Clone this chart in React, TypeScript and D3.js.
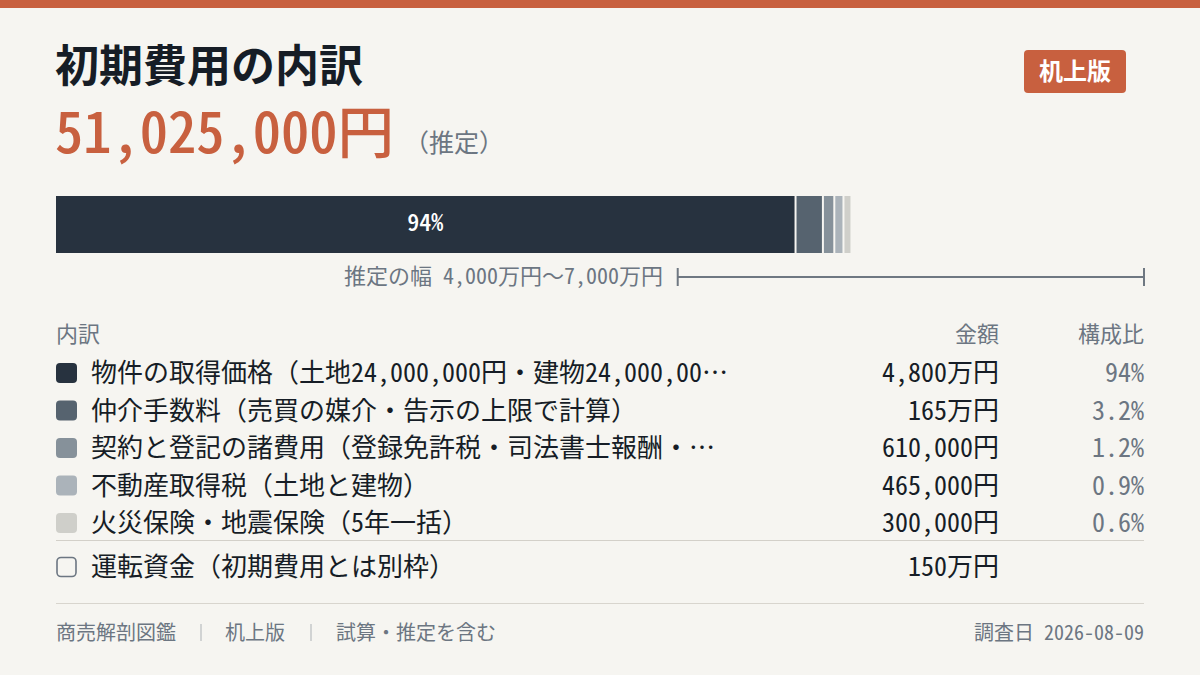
import React, { useLayoutEffect, useRef } from 'react'
import * as d3 from 'd3'

// Breakdown items (yen)
const itemLabels = [
  '物件の取得価格（土地24,000,000円・建物24,000,000円）',
  '仲介手数料（売買の媒介・告示の上限で計算）',
  '契約と登記の諸費用（登録免許税・司法書士報酬・印紙税）',
  '不動産取得税（土地と建物）',
  '火災保険・地震保険（5年一括）',
]
const itemValues = [48000000, 1650000, 610000, 465000, 300000]
const itemColors = ['#27323f', '#56636f', '#86919a', '#abb3ba', '#cfcfca']

// Outside the initial cost
const extraLabel = '運転資金（初期費用とは別枠）'
const extraValue = 1500000

// Estimated range (yen)
const rangeLow = 40000000
const rangeHigh = 70000000

const W = 1200
const H = 675
const FONT = '"Noto Sans CJK JP", "Noto Sans", sans-serif'
const ORANGE = '#c8603f'
const INK = '#161d26'
const GRAY = '#6c7682'
const BG = '#f6f5f1'
const HWID = '"hwid"'

const fmtComma = d3.format(',')
const fmtYen = (v: number) => (v >= 1000000 ? `${fmtComma(v / 10000)}万円` : `${fmtComma(v)}円`)
const fmtShare = (p: number) => (p >= 10 ? `${Math.round(p)}%` : `${p.toFixed(1)}%`)

// ASCII runs get half-width glyphs, CJK stays full width
const splitRuns = (s: string) => s.split(/([\x20-\x7e]+)/).filter(r => r.length > 0)
const isAscii = (r: string) => /^[\x20-\x7e]+$/.test(r)

const Runs: React.FC<{ text: string }> = ({ text }) => (
  <>
    {splitRuns(text).map((r, i) =>
      isAscii(r) ? (
        <tspan key={i} style={{ fontFeatureSettings: HWID }}>{r}</tspan>
      ) : (
        <tspan key={i}>{r}</tspan>
      )
    )}
  </>
)

const fillRuns = (el: SVGTextElement, s: string) => {
  const sel = d3.select(el)
  sel.selectAll('*').remove()
  el.textContent = ''
  splitRuns(s).forEach(r => {
    const t = sel.append('tspan').text(r)
    if (isAscii(r)) t.style('font-feature-settings', HWID)
  })
}

const App: React.FC = () => {
  const labelRefs = useRef<(SVGTextElement | null)[]>([])

  const total = d3.sum(itemValues)
  const x = d3.scaleLinear().domain([0, rangeHigh]).range([56, 1144])

  // stacked bar segments, gaps taken out of the total length
  const gap = 2
  const avail = x(total) - x(0) - gap * (itemValues.length - 1)
  let cursor = x(0)
  const segs = itemValues.map((v, i) => {
    const w = Math.max(6, (v / total) * avail)
    const s = { x0: cursor, w, color: itemColors[i], v }
    cursor += w + gap
    return s
  })

  const rowY = d3.scaleLinear().domain([0, 1]).range([373, 410.5])
  const labelX = 91
  const maxLabelW = 641
  const rowFont = 26

  // Truncate long labels with an ellipsis
  useLayoutEffect(() => {
    labelRefs.current.forEach((el, i) => {
      if (!el) return
      const full = itemLabels[i]
      fillRuns(el, full)
      if (el.getComputedTextLength() <= maxLabelW) return
      let n = full.length
      while (n > 0) {
        fillRuns(el, full.slice(0, n) + '…')
        if (el.getComputedTextLength() <= maxLabelW) break
        n--
      }
    })
  }, [])

  return (
    <div style={{ position: 'fixed', left: 0, top: 0 }}>
      <svg width={W} height={H} style={{ display: 'block', fontFamily: FONT }}>
        <rect width={W} height={H} fill={BG} />
        <rect width={W} height={8} fill={ORANGE} />

        {/* Title */}
        <text x={55} y={82} fontSize={44} fontWeight={700} fill={INK}>
          初期費用の内訳
        </text>
        <text x={55} y={153} fontSize={56.5} fontWeight={500} fill={ORANGE}>
          <Runs text={`${fmtComma(total)}円`} />
        </text>
        <text x={404} y={152} fontSize={25} fill={GRAY}>
          （推定）
        </text>

        {/* Badge */}
        <rect x={1024} y={50} width={102} height={43} rx={4} fill={ORANGE} />
        <text x={1075} y={80} fontSize={24} fontWeight={700} fill="#fff" textAnchor="middle">
          机上版
        </text>

        {/* Stacked bar */}
        {segs.map((s, i) => (
          <rect key={i} x={s.x0} y={196} width={s.w} height={57} fill={s.color} />
        ))}
        <text
          x={segs[0].x0 + segs[0].w / 2}
          y={231}
          fontSize={24}
          fontWeight={500}
          fill="#fff"
          textAnchor="middle"
        >
          <Runs text={fmtShare((itemValues[0] / total) * 100)} />
        </text>

        {/* Estimated range */}
        <text x={663} y={284} fontSize={22} fill={GRAY} textAnchor="end">
          <Runs text={`推定の幅 ${fmtYen(rangeLow)}〜${fmtYen(rangeHigh)}`} />
        </text>
        <g stroke="#6f7882" strokeWidth={2}>
          <line x1={x(rangeLow)} x2={x(rangeHigh)} y1={277} y2={277} />
          <line x1={x(rangeLow)} x2={x(rangeLow)} y1={268} y2={286} />
          <line x1={x(rangeHigh)} x2={x(rangeHigh)} y1={268} y2={286} />
        </g>

        {/* Table header */}
        <g fontSize={22} fill={GRAY}>
          <text x={56} y={342}>内訳</text>
          <text x={999} y={342} textAnchor="end">金額</text>
          <text x={1144} y={342} textAnchor="end">構成比</text>
        </g>

        {/* Rows */}
        {itemValues.map((v, i) => {
          const cy = rowY(i)
          return (
            <g key={i}>
              <rect x={56} y={cy - 10} width={21} height={20} rx={4} fill={itemColors[i]} />
              <text
                ref={el => { labelRefs.current[i] = el }}
                x={labelX}
                y={cy + 9}
                fontSize={rowFont}
                fill={INK}
              />
              <text x={999} y={cy + 9} fontSize={rowFont} fill={INK} textAnchor="end">
                <Runs text={fmtYen(v)} />
              </text>
              <text x={1144} y={cy + 9} fontSize={rowFont} fill={GRAY} textAnchor="end">
                <Runs text={fmtShare((v / total) * 100)} />
              </text>
            </g>
          )
        })}

        <line x1={56} x2={1144} y1={540.5} y2={540.5} stroke="#d3d0c9" strokeWidth={1.2} />

        {/* Extra row */}
        <rect x={57} y={557.5} width={19} height={19} rx={4} fill="none" stroke={GRAY} strokeWidth={1.6} />
        <text x={labelX} y={576} fontSize={rowFont} fill={INK}>
          <Runs text={extraLabel} />
        </text>
        <text x={999} y={576} fontSize={rowFont} fill={INK} textAnchor="end">
          <Runs text={fmtYen(extraValue)} />
        </text>

        {/* Footer */}
        <line x1={56} x2={1144} y1={603.5} y2={603.5} stroke="#d8d5ce" strokeWidth={1.2} />
        <g fontSize={20} fill={GRAY}>
          <text x={56} y={640}>商売解剖図鑑</text>
          <text x={225} y={640}>机上版</text>
          <text x={336} y={640}>試算・推定を含む</text>
          <text x={1144} y={640} textAnchor="end">
            <Runs text="調査日 2026-08-09" />
          </text>
        </g>
        <g stroke="#b9bcc0" strokeWidth={1.2}>
          <line x1={201} x2={201} y1={624} y2={641} />
          <line x1={311} x2={311} y1={624} y2={641} />
        </g>
      </svg>
    </div>
  )
}

export default App
